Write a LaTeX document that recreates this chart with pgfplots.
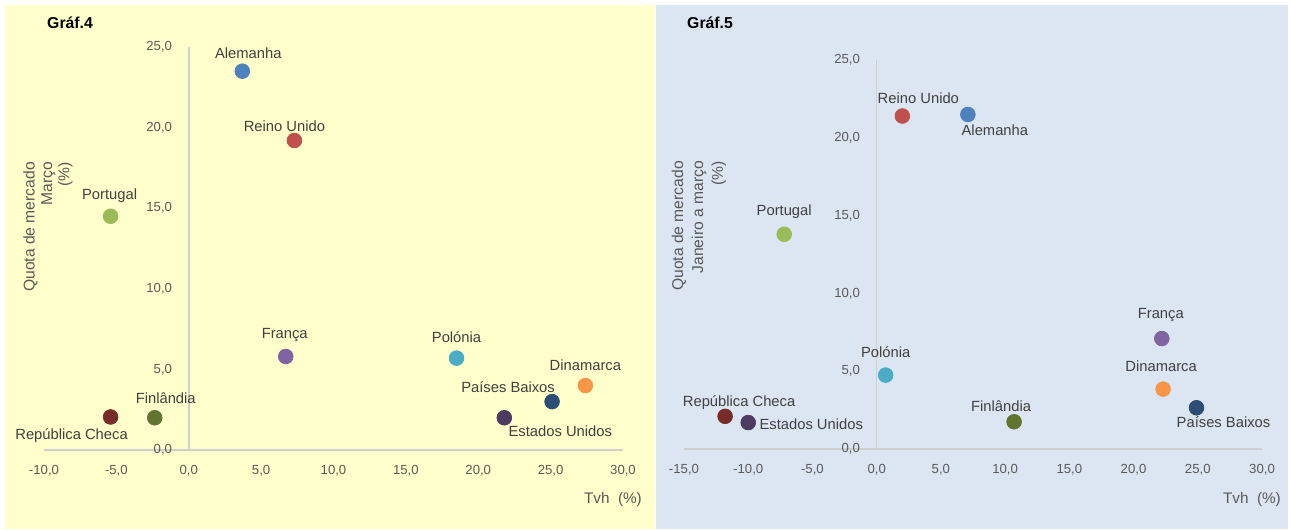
\documentclass[border=0pt]{standalone}
\usepackage{fontspec}
\setmainfont{Liberation Sans}
\usepackage{pgfplots}
\pgfplotsset{compat=1.18}

\definecolor{bgyel}{HTML}{FFFFCC}
\definecolor{bgblu}{HTML}{DCE6F2}
\definecolor{axgray}{HTML}{CFCFCF}
\definecolor{tickgray}{HTML}{595959}
\definecolor{lblgray}{HTML}{404040}
\definecolor{cde}{HTML}{4F81BD}
\definecolor{cuk}{HTML}{C0504D}
\definecolor{cpt}{HTML}{9BBB59}
\definecolor{cfr}{HTML}{8064A2}
\definecolor{cpl}{HTML}{4BACC6}
\definecolor{cdk}{HTML}{F79646}
\definecolor{cnl}{HTML}{2C4D75}
\definecolor{cus}{HTML}{4D3B62}
\definecolor{ccz}{HTML}{772C2A}
\definecolor{cfi}{HTML}{5F7530}

% 1 px of the reference = 0.02cm
\newcommand{\px}{0.02cm}

\pgfplotsset{
  scat/.style={
    scale only axis, axis lines=middle,
    axis line style={draw=axgray, line width=0.9pt, -},
    major tick length=0pt, enlargelimits=false, clip=false,
    hide obscured x ticks=false, hide obscured y ticks=false,
    ymin=0, ymax=25, ytick={0,5,...,25}, xmax=30,
    tick label style={font=\fontsize{7.5}{8}\selectfont, text=tickgray},
    xticklabel style={yshift=-5pt},
    yticklabel style={xshift=-6pt},
    /pgf/number format/fixed,
    /pgf/number format/fixed zerofill,
    /pgf/number format/precision=1,
    /pgf/number format/use comma,
    /pgf/number format/assume math mode=true,
  },
  pt/.style n args={4}{
    only marks, mark=*, mark size=4.2pt, color=#1,
    nodes near coords={#2},
    nodes near coords style={anchor=center, xshift=#3*\px, yshift=#4*\px,
      text=lblgray, font=\fontsize{8.4}{10}\selectfont},
  },
}

\begin{document}
\begin{tikzpicture}
  \useasboundingbox (0,0) rectangle (25.8,10.58);
  % panel backgrounds
  \fill[white] (0,0) rectangle (25.8,10.58);
  \fill[bgyel] (0.10,0) rectangle (13.10,10.48);
  \fill[bgblu] (13.12,0) rectangle (25.76,10.48);

  % ---------- Graf. 4 ----------
  \begin{axis}[scat, at={(0.88cm,1.58cm)}, anchor=south west,
      width=11.58cm, height=8.06cm, xmin=-10, xtick={-10,-5,...,30}]
    \addplot[pt={cde}{Alemanha}{6}{18}] coordinates {(3.7,23.5)};
    \addplot[pt={cuk}{Reino Unido}{-10}{14}] coordinates {(7.3,19.2)};
    \addplot[pt={cpt}{Portugal}{-1}{21}] coordinates {(-5.4,14.5)};
    \addplot[pt={cfr}{França}{-1}{22}] coordinates {(6.7,5.8)};
    \addplot[pt={cpl}{Polónia}{0}{21}] coordinates {(18.5,5.7)};
    \addplot[pt={cdk}{Dinamarca}{0}{20}] coordinates {(27.4,4.0)};
    \addplot[pt={cnl}{Países Baixos}{-44}{15}] coordinates {(25.1,3.0)};
    \addplot[pt={cus}{Estados Unidos}{56}{-13}] coordinates {(21.8,2.0)};
    \addplot[pt={ccz}{República Checa}{-39}{-19}] coordinates {(-5.4,2.05)};
    \addplot[pt={cfi}{Finlândia}{11}{20}] coordinates {(-2.35,2.0)};
  \end{axis}

  % ---------- Graf. 5 ----------
  \begin{axis}[scat, at={(13.68cm,1.60cm)}, anchor=south west,
      width=11.56cm, height=7.78cm, xmin=-15, xtick={-15,-10,...,30}]
    \addplot[pt={cuk}{Reino Unido}{16}{18}] coordinates {(2.0,21.4)};
    \addplot[pt={cde}{Alemanha}{27}{-16}] coordinates {(7.1,21.5)};
    \addplot[pt={cpt}{Portugal}{0}{23}] coordinates {(-7.2,13.8)};
    \addplot[pt={cfr}{França}{-1}{24}] coordinates {(22.2,7.1)};
    \addplot[pt={cpl}{Polónia}{0}{23}] coordinates {(0.7,4.75)};
    \addplot[pt={cdk}{Dinamarca}{-2}{23}] coordinates {(22.3,3.85)};
    \addplot[pt={cnl}{Países Baixos}{27}{-14}] coordinates {(24.9,2.65)};
    \addplot[pt={cfi}{Finlândia}{-13}{16}] coordinates {(10.7,1.75)};
    \addplot[pt={ccz}{República Checa}{14}{14}] coordinates {(-11.8,2.1)};
    \addplot[pt={cus}{Estados Unidos}{63}{-2}] coordinates {(-10.0,1.7)};
  \end{axis}

  % titles and axis labels
  \node[anchor=west, font=\fontsize{9}{11}\selectfont\bfseries] at (0.82,10.12) {Gráf.4};
  \node[anchor=west, font=\fontsize{9}{11}\selectfont\bfseries] at (13.62,10.12) {Gráf.5};

  \node[rotate=90, anchor=east, align=right, text=tickgray,
        font=\fontsize{8.9}{9.9}\selectfont] at (0.96,7.46)
        {Quota de mercado\\Março\\(\%)};
  \node[rotate=90, anchor=east, align=right, text=tickgray,
        font=\fontsize{8.9}{11.3}\selectfont] at (13.98,7.48)
        {Quota de mercado\\Janeiro a março\\(\%)};

  \node[anchor=east, text=tickgray, font=\fontsize{8.7}{10}\selectfont] at (12.96,0.58) {Tvh\ \ (\%)};
  \node[anchor=east, text=tickgray, font=\fontsize{8.7}{10}\selectfont] at (25.74,0.58) {Tvh\ \ (\%)};
\end{tikzpicture}
\end{document}
